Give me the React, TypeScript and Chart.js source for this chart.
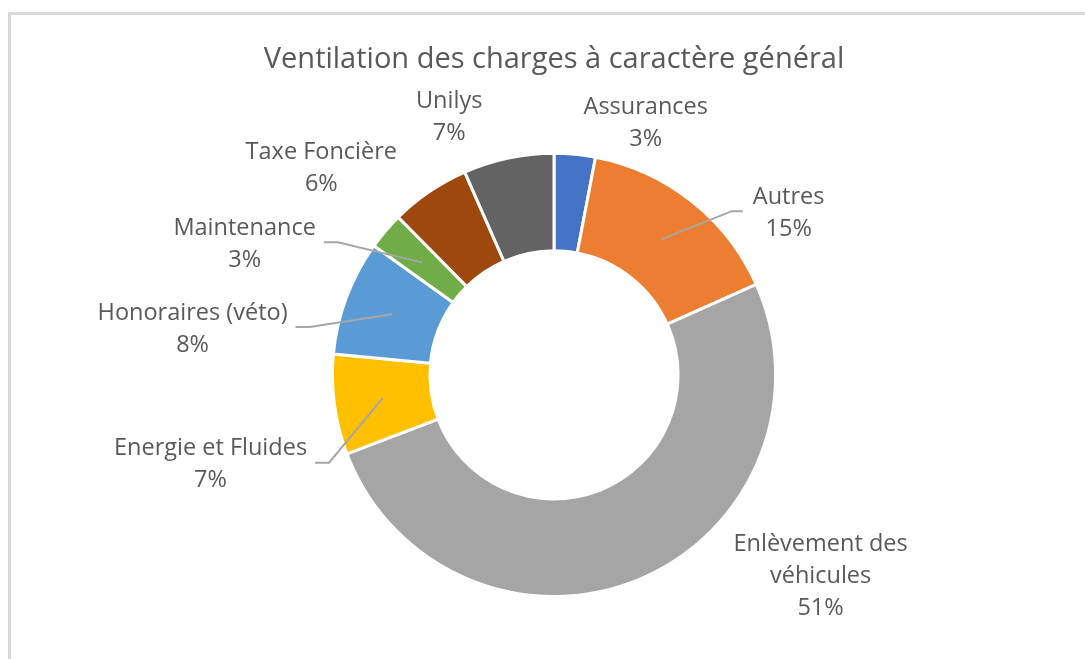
import React, { useEffect, useRef } from "react";
import { Chart, registerables } from "chart.js";

Chart.register(...registerables);

const TITLE = "Ventilation des charges à caractère général";

const categories = [
  "Assurances",
  "Autres",
  "Enlèvement des véhicules",
  "Energie et Fluides",
  "Honoraires (véto)",
  "Maintenance",
  "Taxe Foncière",
  "Unilys",
];

const values = [3.0, 15.3, 50.9, 7.3, 8.4, 2.7, 5.8, 6.6];

const colors = [
  "#4472C4",
  "#ED7D31",
  "#A5A5A5",
  "#FFC000",
  "#5B9BD5",
  "#70AD47",
  "#9E480E",
  "#636363",
];

// label block centre, relative to the doughnut centre, in units of the outer radius
const labelOffsets = [
  [0.414, -1.144],
  [1.059, -0.739],
  [1.203, 0.901],
  [-1.55, 0.396],
  [-1.631, -0.216],
  [-1.396, -0.599],
  [-1.05, -0.941],
  [-0.473, -1.171],
];

const leaderLines = [false, true, false, true, true, true, false, false];

const FONT = '"Open Sans", "Noto Sans", sans-serif';
const TEXT_COLOR = "#595959";

function wrapText(ctx: CanvasRenderingContext2D, text: string, maxW: number) {
  const words = text.split(" ");
  const lines: string[] = [];
  let cur = "";
  for (const w of words) {
    const t = cur ? cur + " " + w : w;
    if (cur && ctx.measureText(t).width > maxW) {
      lines.push(cur);
      cur = w;
    } else {
      cur = t;
    }
  }
  if (cur) lines.push(cur);
  return lines;
}

const outerLabels = {
  id: "outerLabels",
  afterDatasetsDraw(chart: any) {
    const ctx: CanvasRenderingContext2D = chart.ctx;
    const meta = chart.getDatasetMeta(0);
    const total = values.reduce((a, b) => a + b, 0);
    const lh = 32;
    ctx.save();
    ctx.font = `23.5px ${FONT}`;
    meta.data.forEach((arc: any, i: number) => {
      const { x, y, outerRadius } = arc.getProps(["x", "y", "outerRadius"], true);
      const lines = wrapText(ctx, categories[i], 220);
      lines.push(Math.round((values[i] / total) * 100) + "%");
      const bx = x + labelOffsets[i][0] * outerRadius;
      const by = y + labelOffsets[i][1] * outerRadius;
      const maxW = Math.max(...lines.map((l) => ctx.measureText(l).width));
      if (leaderLines[i]) {
        const c = arc.getCenterPoint(true);
        const left = bx < x;
        const sx = left ? bx + maxW / 2 + 8 : bx - maxW / 2 - 10;
        const hx = left ? sx + 14 : sx - 11;
        ctx.strokeStyle = "#A6A6A6";
        ctx.lineWidth = 2;
        ctx.beginPath();
        ctx.moveTo(sx, by);
        ctx.lineTo(hx, by);
        ctx.lineTo(c.x, c.y);
        ctx.stroke();
      }
      ctx.fillStyle = TEXT_COLOR;
      ctx.textAlign = "center";
      ctx.textBaseline = "middle";
      lines.forEach((t, k) => {
        ctx.fillText(t, bx, by + 2 + (k - (lines.length - 1) / 2) * lh);
      });
    });
    ctx.restore();
  },
};

export default function App() {
  const ref = useRef<HTMLCanvasElement | null>(null);

  useEffect(() => {
    if (!ref.current) return;
    const chart = new Chart(ref.current, {
      type: "doughnut",
      data: {
        labels: categories,
        datasets: [
          {
            data: values,
            backgroundColor: colors,
            borderColor: "#FFFFFF",
            borderWidth: 3,
          },
        ],
      },
      options: {
        responsive: false,
        animation: false,
        cutout: "56%",
        layout: { padding: { left: 200, right: 177, top: 0, bottom: 61 } },
        plugins: {
          legend: { display: false },
          tooltip: { enabled: false },
          title: {
            display: true,
            text: TITLE,
            color: TEXT_COLOR,
            font: { family: FONT, size: 29, weight: "normal" },
            padding: { top: 42, bottom: 75 },
          },
        },
      },
      plugins: [outerLabels],
    });
    const fonts: any = (document as any).fonts;
    if (fonts && fonts.load) {
      Promise.all([fonts.load(`23.5px "Open Sans"`), fonts.load(`29px "Open Sans"`)]).then(() => {
        try {
          chart.update();
        } catch (e) {}
      });
    }
    return () => chart.destroy();
  }, []);

  return (
    <div>
      <div
        style={{
          position: "fixed",
          left: 8,
          top: 12,
          width: 1200,
          height: 800,
          borderTop: "3px solid #D9D9D9",
          borderLeft: "3px solid #D9D9D9",
          background: "#FFFFFF",
        }}
      />
      <canvas
        ref={ref}
        width={1085}
        height={659}
        style={{ position: "fixed", left: 0, top: 0, width: 1085, height: 659 }}
      />
    </div>
  );
}
